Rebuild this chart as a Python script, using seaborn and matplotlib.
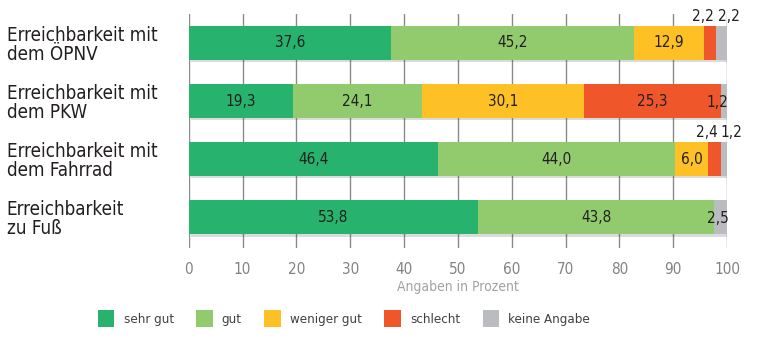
import numpy as np
import pandas as pd
import matplotlib
matplotlib.use('Agg')
import matplotlib.pyplot as plt
import matplotlib.patheffects as pe
from matplotlib.patches import Patch
import seaborn as sns

# Daten
kategorien = ['Erreichbarkeit mit\ndem ÖPNV', 'Erreichbarkeit mit\ndem PKW',
              'Erreichbarkeit mit\ndem Fahrrad', 'Erreichbarkeit\nzu Fuß']
stufen = ['sehr gut', 'gut', 'weniger gut', 'schlecht', 'keine Angabe']
sehr_gut = [37.6, 19.3, 46.4, 53.8]
gut = [45.2, 24.1, 44.0, 43.8]
weniger_gut = [12.9, 30.1, 6.0, 0.0]
schlecht = [2.2, 25.3, 2.4, 0.0]
keine_angabe = [2.2, 1.2, 1.2, 2.5]
farben = ['#27b36e', '#92cb6e', '#fdc125', '#ef572a', '#bbbcbf']

werte = np.array([sehr_gut, gut, weniger_gut, schlecht, keine_angabe])
kumuliert = werte.cumsum(axis=0)

sns.set_style('white')
plt.rcParams['font.family'] = ['DejaVu Sans']
plt.rcParams['font.stretch'] = 'condensed'

fig, ax = plt.subplots(figsize=(7.8, 3.56), dpi=100)
fig.subplots_adjust(left=0.242, right=0.932, top=0.961, bottom=0.303)

# gestapelt: von der Gesamtsumme rückwärts überzeichnen
for i in range(len(stufen) - 1, -1, -1):
    df = pd.DataFrame({'kat': kategorien, 'wert': kumuliert[i]})
    sns.barplot(data=df, x='wert', y='kat', orient='h', color=farben[i],
                saturation=1, width=0.59, ax=ax, zorder=3,
                edgecolor='none', linewidth=0)

# leichter Schatten nur für die äußere Lage
for p in ax.patches[:len(kategorien)]:
    p.set_path_effects([pe.SimplePatchShadow(offset=(1.5, -1.5), alpha=0.18),
                        pe.Normal()])

def fmt(v):
    return f'{v:.1f}'.replace('.', ',')

for j in range(len(kategorien)):
    for i in range(len(stufen)):
        v = werte[i, j]
        if v <= 0:
            continue
        start = kumuliert[i, j] - v
        mitte = start + v / 2
        if v >= 5:
            ax.text(mitte, j, fmt(v), ha='center', va='center', fontsize=11,
                    color='#231f20', zorder=5)
        elif i == 4 and (weniger_gut[j] + schlecht[j] > 20 or schlecht[j] == 0):
            ax.text(kumuliert[i, j] + 0.2, j + 0.02, fmt(v), ha='right', va='center',
                    fontsize=11, color='#231f20', zorder=5)
        else:
            dx = -1.3 if i == 3 else 1.4
            ax.text(mitte + dx, j - 0.33, fmt(v), ha='center', va='bottom',
                    fontsize=11, color='#231f20', zorder=5)

ax.set_xlim(0, 100)
ax.set_ylim(3.53, -0.5)
ax.set_xticks(range(0, 101, 10))
ax.grid(axis='x', color='#8a8a8a', linewidth=1, zorder=0)
ax.grid(axis='y', visible=False)
ax.set_axisbelow(True)
sns.despine(ax=ax, left=True, bottom=True)
ax.tick_params(axis='x', length=0, pad=10, labelsize=11, labelcolor='#808285')
ax.tick_params(axis='y', length=0, pad=131, labelsize=13.5, labelcolor='#231f20')
for lbl in ax.get_yticklabels():
    lbl.set_ha('left')
    lbl.set_linespacing(1.0)
ax.set_ylabel('')
ax.set_xlabel('Angaben in Prozent', fontsize=10, color='#a0a2a5', labelpad=2)

handles = [Patch(facecolor=c, edgecolor='none', label=s) for c, s in zip(farben, stufen)]
fig.legend(handles=handles, loc='center', bbox_to_anchor=(0.441, 0.105), ncol=5,
           frameon=False, fontsize=9.5, handlelength=1.25, handleheight=1.6,
           columnspacing=1.7, handletextpad=0.7, labelcolor='#414042')

fig.savefig('out.png', dpi=100)
